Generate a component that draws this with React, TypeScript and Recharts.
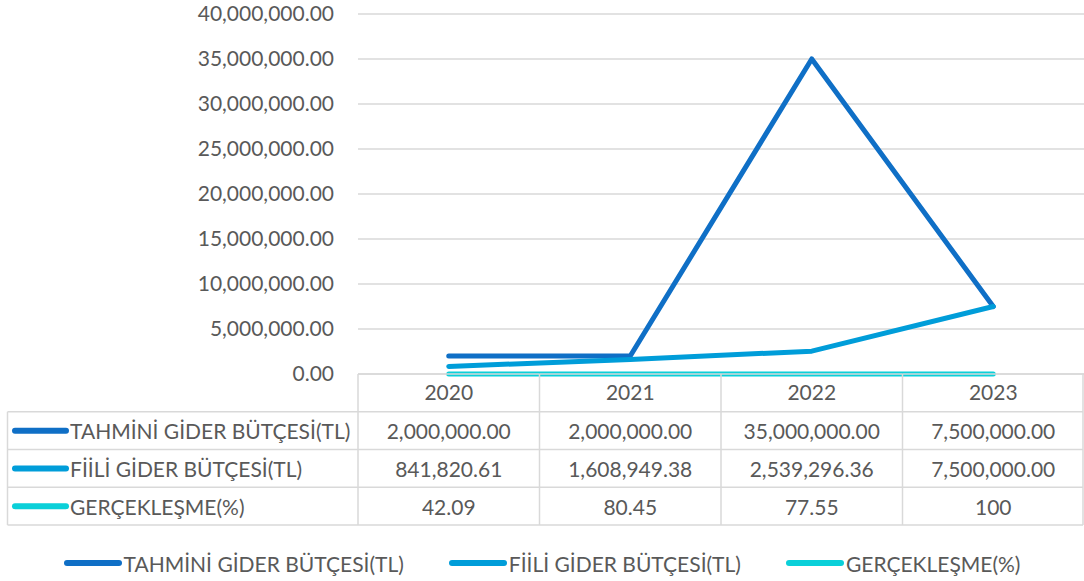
import React from "react";
import {
  LineChart,
  Line,
  XAxis,
  YAxis,
  CartesianGrid,
  Legend,
} from "recharts";

const years = ["2020", "2021", "2022", "2023"];
const tahmini = [2000000, 2000000, 35000000, 7500000];
const fiili = [841820.61, 1608949.38, 2539296.36, 7500000];
const gerceklesme = [42.09, 80.45, 77.55, 100];
const yTicks = [0, 5000000, 10000000, 15000000, 20000000, 25000000, 30000000, 35000000, 40000000];

const seriesNames = ["TAHMİNİ GİDER BÜTÇESİ(TL)", "FİİLİ GİDER BÜTÇESİ(TL)", "GERÇEKLEŞME(%)"];
const seriesKeys = ["tahmini", "fiili", "gerceklesme"];
const colors = ["#0F6FC6", "#009DD9", "#0BD0D9"];

// table cell texts, one list per series
const tahminiText = ["2,000,000.00", "2,000,000.00", "35,000,000.00", "7,500,000.00"];
const fiiliText = ["841,820.61", "1,608,949.38", "2,539,296.36", "7,500,000.00"];
const gerceklesmeText = ["42.09", "80.45", "77.55", "100"];
const tableTexts = [tahminiText, fiiliText, gerceklesmeText];

const data = years.map((year, i) => ({
  year,
  tahmini: tahmini[i],
  fiili: fiili[i],
  gerceklesme: gerceklesme[i],
}));

const FONT = "Lato, 'Open Sans', sans-serif";
const TEXT = "#595959";
const GRID = "#d9d9d9";
const W = 1084;
const H = 581;
const PLOT_LEFT = 358;
const TABLE_LEFT = 7.5;
const TABLE_H = 151;
const ROW_H = TABLE_H / 4;
const COL_W = (W - PLOT_LEFT) / years.length;

const fmt = (v: number) =>
  v.toLocaleString("en-US", { minimumFractionDigits: 2, maximumFractionDigits: 2 });

// each x tick draws one column of the data table
const TableTick = (props: any) => {
  const { x, y, payload, index } = props;
  const left = x - COL_W / 2;
  const right = x + COL_W / 2;
  return (
    <g>
      <line x1={left} x2={left} y1={y} y2={y + TABLE_H} stroke={GRID} strokeWidth={1.5} />
      {index === years.length - 1 && (
        <line x1={right - 1} x2={right - 1} y1={y} y2={y + TABLE_H} stroke={GRID} strokeWidth={1.5} />
      )}
      <line x1={left} x2={right} y1={y} y2={y} stroke={GRID} strokeWidth={1.5} />
      <text x={x} y={y + ROW_H / 2 - 1} textAnchor="middle" dominantBaseline="central" fill={TEXT} fontSize={21} fontFamily={FONT}>
        {payload.value}
      </text>
      {tableTexts.map((col, r) => (
        <text
          key={r}
          x={x}
          y={y + ROW_H * (r + 1.5)}
          textAnchor="middle"
          dominantBaseline="central"
          fill={TEXT}
          fontSize={21}
          fontFamily={FONT}
        >
          {col[index]}
        </text>
      ))}
      {index === 0 && (
        <g>
          <line x1={TABLE_LEFT} x2={TABLE_LEFT} y1={y + ROW_H} y2={y + TABLE_H} stroke={GRID} strokeWidth={1.5} />
          {[1, 2, 3, 4].map((r) => (
            <line key={r} x1={TABLE_LEFT} x2={W - 1} y1={y + ROW_H * r} y2={y + ROW_H * r} stroke={GRID} strokeWidth={1.5} />
          ))}
          {seriesNames.map((name, r) => (
            <g key={name}>
              <line
                x1={15}
                x2={66}
                y1={y + ROW_H * (r + 1.5)}
                y2={y + ROW_H * (r + 1.5)}
                stroke={colors[r]}
                strokeWidth={6}
                strokeLinecap="round"
              />
              <text x={70} y={y + ROW_H * (r + 1.5)} dominantBaseline="central" fill={TEXT} fontSize={21} fontFamily={FONT}>
                {name}
              </text>
            </g>
          ))}
        </g>
      )}
    </g>
  );
};

const LegendContent = () => (
  <div
    style={{
      height: 56,
      paddingTop: 20,
      boxSizing: "border-box",
      display: "flex",
      justifyContent: "center",
      alignItems: "center",
      gap: 45,
      fontFamily: FONT,
      fontSize: 21,
      color: TEXT,
    }}
  >
    {seriesNames.map((name, i) => (
      <div key={name} style={{ display: "flex", alignItems: "center" }}>
        <svg width={58} height={10}>
          <line x1={3} x2={55} y1={5} y2={5} stroke={colors[i]} strokeWidth={6} strokeLinecap="round" />
        </svg>
        <span style={{ marginLeft: 2 }}>{name}</span>
      </div>
    ))}
  </div>
);

export default function App() {
  return (
    <div style={{ position: "absolute", left: 0, top: 0, width: W, height: H, background: "#fff" }}>
      <LineChart width={W} height={H} data={data} margin={{ top: 14, right: 0, left: 0, bottom: 0 }}>
        <CartesianGrid vertical={false} stroke={GRID} strokeWidth={1.5} />
        <XAxis
          dataKey="year"
          scale="band"
          axisLine={false}
          tickLine={false}
          tickSize={0}
          tickMargin={0}
          height={TABLE_H}
          interval={0}
          tick={<TableTick />}
        />
        <YAxis
          domain={[0, 40000000]}
          ticks={yTicks}
          width={PLOT_LEFT}
          axisLine={false}
          tickLine={false}
          tickSize={6}
          tickMargin={18}
          tickFormatter={fmt}
          tick={{ fill: TEXT, fontSize: 21, fontFamily: FONT }}
        />
        <Legend verticalAlign="bottom" content={<LegendContent />} />
        {seriesKeys.map((k, i) => (
          <Line
            key={k}
            type="linear"
            dataKey={k}
            stroke={colors[i]}
            strokeWidth={5}
            strokeLinecap="round"
            strokeLinejoin="round"
            dot={false}
            activeDot={false}
            isAnimationActive={false}
          />
        ))}
      </LineChart>
    </div>
  );
}
